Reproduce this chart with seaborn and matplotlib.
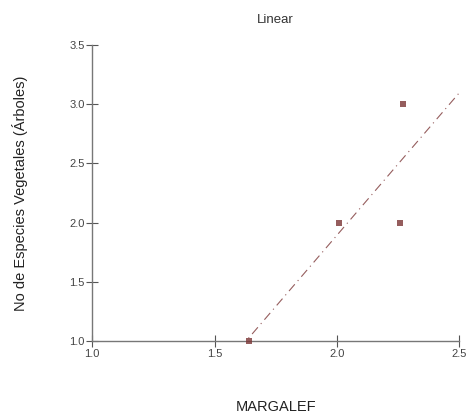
import pandas as pd
import matplotlib
matplotlib.use('Agg')
import matplotlib.pyplot as plt
import seaborn as sns

margalef = [1.64, 2.01, 2.26, 2.27]
especies = [1.0, 2.0, 2.0, 3.0]
x_ticks = [1.0, 1.5, 2.0, 2.5]
y_ticks = [1.0, 1.5, 2.0, 2.5, 3.0, 3.5]

df = pd.DataFrame({'MARGALEF': margalef, 'especies': especies})

sns.set_style('white')
plt.rcParams['font.family'] = ['Liberation Sans', 'DejaVu Sans']

fig = plt.figure(figsize=(4.68, 4.19), dpi=100)
ax = fig.add_axes([0.197, 0.186, 0.784, 0.707])
ax.set_xlim(1.0, 2.5)
ax.set_ylim(1.0, 3.5)

color = '#7b3535'
sns.regplot(data=df, x='MARGALEF', y='especies', ax=ax, ci=None, truncate=False,
            marker='s', color=color,
            scatter_kws={'s': 14, 'clip_on': False, 'zorder': 5, 'linewidths': 0},
            line_kws={'linestyle': (0, (8, 4, 1, 4)), 'linewidth': 0.8, 'alpha': 0.8})
ax.set_xlim(1.0, 2.5)
ax.set_ylim(1.0, 3.5)

ax.set_xticks(x_ticks)
ax.set_yticks(y_ticks)
ax.set_xticklabels([f'{v:.1f}' for v in x_ticks])
ax.set_yticklabels([f'{v:.1f}' for v in y_ticks])
ax.tick_params(bottom=True, left=True, direction='inout', length=9, width=0.8,
               color='#555555', labelsize=8, labelcolor='#444444', pad=1)
for side in ['top', 'right']:
    ax.spines[side].set_visible(False)
for side in ['left', 'bottom']:
    ax.spines[side].set_color('#777777')
    ax.spines[side].set_linewidth(1.0)

ax.set_title('Linear', fontsize=9.5, color='#333333', pad=16)
ax.set_xlabel('MARGALEF', fontsize=10.5, color='#222222', labelpad=30)
ax.set_ylabel('No de Especies Vegetales (Árboles)', fontsize=10.5, color='#222222', labelpad=30)

fig.savefig('out.png', dpi=100)
